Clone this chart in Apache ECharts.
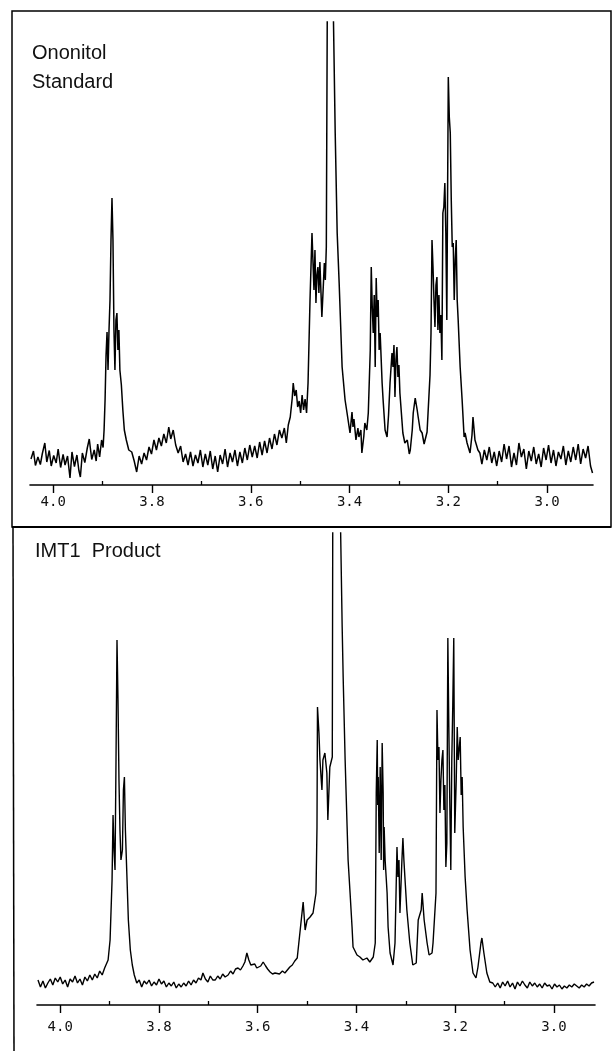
<!DOCTYPE html>
<html lang="en">
<head>
<meta charset="UTF-8">
<title>Ononitol standard vs IMT1 product 1H NMR</title>
<script src="https://cdn.jsdelivr.net/npm/echarts@6/dist/echarts.min.js"></script>
<style>
  html, body { margin: 0; padding: 0; background: #fff; }
  #chart { width: 614px; height: 1051px; }
</style>
</head>
<body>
<div id="chart"></div>
<script>
// chemical shift (ppm) / intensity (arb. units)
var ononitolStandard = [
  [4.045,5.2],[4.040,6.8],[4.036,3.9],[4.031,5.6],[4.026,4.1],[4.022,6.3],[4.017,8.4],[4.013,4.6],
  [4.008,6.9],[4.004,3.8],[3.999,5.9],[3.994,4.4],[3.990,7.2],[3.985,3.5],[3.980,6.1],[3.976,4.0],
  [3.971,5.8],[3.966,1.4],[3.962,6.6],[3.957,3.7],[3.952,6.0],[3.948,2.9],[3.945,1.6],[3.941,6.4],
  [3.936,4.5],[3.931,7.4],[3.927,9.2],[3.922,5.1],[3.917,7.0],[3.913,4.8],[3.910,8.2],[3.906,5.6],
  [3.902,9.0],[3.899,7.5],
  [3.897,11.0],[3.895,17.0],[3.893,26.0],[3.891,30.6],[3.889,23.0],[3.887,31.0],[3.885,37.0],
  [3.883,49.0],[3.881,57.4],[3.879,49.0],[3.877,31.0],[3.875,23.0],[3.873,33.0],[3.871,34.4],
  [3.869,27.0],[3.867,31.0],[3.865,23.0],[3.862,20.0],[3.859,15.0],[3.856,11.0],[3.852,9.0],
  [3.847,7.0],[3.841,6.6],[3.836,4.8],[3.831,2.6],
  [3.826,5.8],[3.821,4.2],[3.816,6.4],[3.811,5.0],[3.806,7.6],[3.801,6.2],[3.796,9.0],[3.791,7.0],
  [3.786,9.4],[3.781,7.8],[3.776,10.2],[3.771,8.4],[3.766,11.6],[3.762,9.2],[3.757,11.0],[3.752,8.0],
  [3.747,6.4],[3.742,7.8],[3.737,4.6],[3.732,6.2],[3.727,4.0],[3.722,6.6],[3.717,3.8],[3.712,6.0],
  [3.707,4.4],[3.702,7.0],[3.697,3.6],[3.692,6.2],[3.687,4.0],[3.682,6.8],[3.677,3.2],[3.672,5.8],
  [3.667,2.6],[3.662,6.0],[3.657,4.2],[3.652,7.2],[3.647,3.6],[3.642,6.4],[3.637,4.6],[3.632,7.0],
  [3.627,3.8],[3.622,6.6],[3.617,4.4],[3.612,7.4],[3.607,5.0],[3.602,8.0],[3.597,5.6],[3.592,7.8],
  [3.587,5.4],[3.582,8.6],[3.577,6.0],[3.572,8.8],[3.567,6.4],[3.562,9.4],[3.557,7.2],[3.552,10.2],
  [3.547,8.0],[3.542,11.0],[3.537,9.4],[3.532,11.4],[3.528,8.4],[3.524,12.0],[3.520,13.6],
  [3.516,17.4],[3.514,20.4],[3.511,17.8],[3.508,19.0],[3.505,15.6],[3.502,16.8],[3.499,14.4],
  [3.496,18.0],[3.493,15.0],[3.490,17.2],[3.487,14.4],
  [3.484,20.4],[3.480,37.0],[3.476,50.4],[3.474,50.6],[3.472,39.0],[3.470,47.0],[3.468,36.4],
  [3.466,42.0],[3.464,43.6],[3.462,38.4],[3.460,44.6],[3.458,39.0],[3.456,33.6],[3.453,40.0],
  [3.451,44.4],[3.449,41.0],[3.447,47.6],[3.445,96.0],[3.439,140],[3.433,96.0],[3.429,70.4],
  [3.425,50.4],[3.421,40.4],[3.415,23.6],[3.409,17.0],[3.405,14.4],[3.399,10.4],[3.395,14.6],
  [3.393,11.6],[3.391,13.2],[3.387,9.0],[3.383,11.4],[3.381,9.6],[3.377,11.0],[3.375,6.4],
  [3.371,9.8],[3.369,12.4],[3.365,11.0],[3.362,14.4],[3.358,27.0],[3.356,43.6],[3.354,35.6],
  [3.352,30.4],[3.350,38.0],[3.348,23.6],[3.346,41.4],[3.344,33.6],[3.342,37.0],[3.340,27.0],
  [3.338,30.4],[3.334,20.4],[3.332,17.0],[3.328,11.0],[3.324,9.6],[3.321,14.0],[3.318,20.4],
  [3.314,26.4],[3.312,23.6],[3.310,28.0],[3.308,17.6],[3.306,25.0],[3.304,27.6],[3.302,21.6],
  [3.300,24.0],[3.298,18.4],[3.292,10.4],[3.288,8.4],[3.283,9.0],[3.279,6.2],[3.277,7.0],
  [3.273,11.0],[3.271,14.4],[3.267,17.4],[3.263,15.0],[3.261,13.6],[3.257,11.0],[3.253,10.4],
  [3.249,8.2],[3.247,9.0],[3.243,10.6],[3.241,14.4],[3.237,22.0],[3.235,30.4],[3.233,49.0],
  [3.231,43.6],[3.229,37.0],[3.227,31.6],[3.225,40.0],[3.223,41.6],[3.221,31.0],[3.219,38.0],
  [3.217,30.4],[3.215,34.0],[3.213,25.0],[3.211,54.4],[3.209,55.6],[3.207,60.4],[3.205,50.4],
  [3.203,33.0],[3.200,81.6],[3.198,73.6],[3.196,70.4],[3.194,57.0],[3.192,47.6],[3.190,48.4],
  [3.188,37.0],[3.186,45.0],[3.184,49.0],[3.182,37.0],[3.180,33.0],[3.176,23.6],[3.172,17.0],
  [3.168,9.6],[3.166,10.4],[3.162,8.4],[3.156,6.4],[3.152,10.0],[3.150,13.6],[3.146,9.0],
  [3.144,9.0],[3.140,7.0],[3.136,6.4],
  [3.132,4.2],[3.127,7.0],[3.122,5.0],[3.117,7.6],[3.112,4.4],[3.107,6.6],[3.102,3.8],[3.097,6.8],
  [3.092,4.6],[3.087,8.2],[3.082,5.2],[3.077,7.8],[3.072,3.6],[3.067,6.4],[3.062,4.0],[3.057,8.4],
  [3.052,5.6],[3.047,7.2],[3.042,3.2],[3.037,6.8],[3.032,4.8],[3.027,7.6],[3.022,4.2],[3.017,6.2],
  [3.012,3.6],[3.007,7.4],[3.002,5.0],[2.997,8.0],[2.992,4.4],[2.987,7.0],[2.982,3.8],[2.977,6.6],
  [2.972,5.2],[2.967,7.8],[2.962,4.0],[2.957,6.8],[2.952,4.6],[2.947,7.6],[2.942,5.0],[2.937,8.2],
  [2.932,4.2],[2.927,7.2],[2.922,5.4],[2.917,7.8],[2.912,3.8],[2.908,2.4]
];

var imt1Product = [
  [4.045,5.0],[4.040,3.6],[4.035,4.8],[4.030,3.4],[4.025,4.4],[4.020,5.2],[4.015,4.0],[4.010,5.4],
  [4.005,4.6],[4.000,5.6],[3.995,4.2],[3.990,5.0],[3.985,3.6],[3.980,5.2],[3.975,4.6],[3.970,5.8],
  [3.965,4.4],[3.960,5.2],[3.955,4.0],[3.950,5.6],[3.945,4.8],[3.940,6.0],[3.935,5.0],[3.930,6.2],
  [3.925,5.4],[3.920,6.8],[3.915,6.0],[3.910,7.4],[3.906,7.0],[3.903,9.0],
  [3.899,13.0],[3.895,25.0],[3.893,38.0],[3.891,31.0],[3.889,27.0],[3.887,49.0],[3.885,73.0],
  [3.883,61.0],[3.881,45.0],[3.879,35.0],[3.877,29.0],[3.874,31.0],[3.872,43.0],[3.870,45.6],
  [3.868,35.0],[3.866,29.0],[3.864,23.0],[3.862,17.0],[3.858,11.0],[3.854,8.0],[3.850,6.0],
  [3.845,4.4],[3.840,5.0],[3.835,3.6],[3.830,4.8],[3.825,4.2],[3.820,5.0],[3.815,3.8],[3.810,4.6],
  [3.805,4.0],[3.800,5.2],[3.795,4.2],[3.790,4.8],[3.785,3.6],[3.780,4.4],[3.775,3.8],[3.770,4.6],
  [3.765,3.4],[3.760,4.2],[3.755,3.6],[3.750,4.4],[3.745,3.8],[3.740,4.8],[3.735,4.0],[3.730,5.0],
  [3.725,4.4],[3.720,5.4],[3.715,5.0],[3.711,6.4],[3.706,5.2],[3.701,4.6],[3.696,5.8],[3.691,5.0],
  [3.686,5.0],[3.681,5.8],[3.676,5.2],[3.671,6.2],[3.666,5.6],[3.660,6.0],[3.655,6.8],[3.650,6.2],
  [3.645,7.2],[3.640,7.4],[3.635,7.0],[3.630,7.8],[3.626,8.6],[3.622,10.4],[3.618,9.0],[3.614,8.0],
  [3.611,7.6],[3.606,8.2],[3.602,7.4],[3.599,7.0],[3.594,7.8],[3.589,8.6],[3.584,7.8],[3.580,7.2],
  [3.575,6.6],[3.570,6.2],[3.565,6.4],[3.561,6.0],[3.556,6.2],[3.550,6.8],[3.545,6.4],[3.540,7.0],
  [3.535,7.6],[3.530,8.0],[3.525,8.8],[3.520,9.4],[3.514,15.0],[3.508,20.6],[3.504,15.0],
  [3.500,17.0],[3.494,17.6],[3.488,18.4],[3.484,18.6],[3.482,22.4],[3.480,35.6],[3.479,59.6],
  [3.476,54.4],[3.474,49.0],[3.470,43.0],[3.468,49.0],[3.464,50.4],[3.460,46.4],[3.458,37.0],
  [3.454,47.6],[3.449,49.6],[3.448,100],[3.441,150],[3.433,100],[3.429,75.6],[3.427,65.6],
  [3.423,49.0],[3.419,35.6],[3.417,29.0],[3.413,22.4],[3.409,15.6],[3.407,11.6],[3.399,10.0],
  [3.393,9.6],[3.387,9.0],[3.379,9.4],[3.373,8.6],[3.366,9.6],[3.362,12.4],[3.360,42.4],
  [3.358,53.0],[3.357,40.0],[3.356,45.6],[3.354,30.4],[3.352,47.6],[3.350,29.0],[3.348,52.4],
  [3.346,42.4],[3.345,27.0],[3.344,35.6],[3.342,29.0],[3.338,22.4],[3.336,15.6],[3.332,10.4],
  [3.326,8.0],[3.322,12.4],[3.318,31.6],[3.316,25.6],[3.314,29.0],[3.312,18.4],[3.308,29.0],
  [3.306,33.4],[3.304,29.0],[3.302,25.6],[3.298,19.0],[3.292,12.4],[3.286,8.0],[3.279,8.4],
  [3.275,17.0],[3.269,19.0],[3.267,22.4],[3.263,17.0],[3.257,12.4],[3.253,10.0],[3.247,10.4],
  [3.245,12.4],[3.241,12.4],[3.239,22.4],[3.237,59.0],[3.235,49.0],[3.233,51.6],[3.231,38.4],
  [3.229,45.0],[3.227,49.0],[3.225,51.0],[3.223,39.0],[3.221,44.0],[3.219,27.6],[3.217,32.4],
  [3.215,73.4],[3.213,55.6],[3.211,40.0],[3.209,27.0],[3.207,49.0],[3.205,60.0],[3.203,73.4],
  [3.201,34.4],[3.198,45.0],[3.196,55.6],[3.194,49.0],[3.190,53.6],[3.188,42.0],[3.186,45.6],
  [3.184,35.6],[3.180,25.6],[3.176,19.0],[3.170,11.0],[3.164,6.4],[3.158,5.4],[3.154,7.6],
  [3.148,12.4],[3.146,13.4],[3.142,10.4],[3.136,6.4],[3.130,4.6],[3.124,4.4],
  [3.119,3.6],[3.114,4.4],[3.109,3.4],[3.104,4.6],[3.099,3.8],[3.094,4.8],[3.089,3.6],[3.084,4.4],
  [3.079,3.2],[3.074,4.6],[3.069,3.8],[3.064,4.8],[3.059,4.0],[3.054,3.4],[3.049,4.6],[3.044,3.8],
  [3.039,4.4],[3.034,3.6],[3.029,4.2],[3.024,3.4],[3.019,4.4],[3.014,3.8],[3.009,4.0],[3.004,3.2],
  [2.999,4.2],[2.994,3.6],[2.989,4.0],[2.984,3.2],[2.979,3.8],[2.974,3.4],[2.969,4.0],[2.964,3.6],
  [2.959,4.2],[2.954,3.8],[2.949,3.4],[2.944,4.0],[2.939,3.6],[2.934,4.2],[2.929,3.8],[2.924,4.4],
  [2.919,4.6]
];

var majorTicks = [4.0, 3.8, 3.6, 3.4, 3.2, 3.0];
var minorTicks = [3.9, 3.7, 3.5, 3.3, 3.1];
var panelTitles = ['Ononitol\nStandard', 'IMT1  Product'];

var chart = echarts.init(document.getElementById('chart'));

var labelFont = {
  color: '#111',
  fontFamily: 'DejaVu Sans Mono',
  fontSize: 14,
  formatter: function (v) { return Number(v).toFixed(1); }
};

function shiftAxis(gridIndex, max, min, margin) {
  return {
    type: 'value', gridIndex: gridIndex, inverse: true, min: min, max: max,
    axisLine: { show: true, onZero: false, lineStyle: { color: '#000', width: 1.6 } },
    axisTick: { show: true, customValues: majorTicks, length: 8, lineStyle: { color: '#000', width: 1.4 } },
    axisLabel: Object.assign({ customValues: majorTicks, margin: margin }, labelFont),
    splitLine: { show: false }
  };
}
function minorAxis(gridIndex, max, min) {
  return {
    type: 'value', gridIndex: gridIndex, inverse: true, min: min, max: max,
    axisLine: { show: false },
    axisTick: { show: true, customValues: minorTicks, length: 4, lineStyle: { color: '#000', width: 1.3 } },
    axisLabel: { show: false },
    splitLine: { show: false }
  };
}

var option = {
  animation: false,
  backgroundColor: '#fff',
  grid: [
    { left: 30, right: 21, top: 22, height: 463 },
    { left: 37, right: 19, top: 533, height: 472 }
  ],
  xAxis: [
    shiftAxis(0, 4.047, 2.907, 10),
    shiftAxis(1, 4.047, 2.917, 15),
    minorAxis(0, 4.047, 2.907),
    minorAxis(1, 4.047, 2.917)
  ],
  yAxis: [
    { type: 'value', gridIndex: 0, min: 0, max: 92.6, show: false },
    { type: 'value', gridIndex: 1, min: 0, max: 94.4, show: false }
  ],
  series: [
    {
      name: 'Ononitol Standard', type: 'line', xAxisIndex: 0, yAxisIndex: 0,
      data: ononitolStandard, showSymbol: false, clip: true,
      lineStyle: { color: '#000', width: 1.5 }
    },
    {
      name: 'IMT1 Product', type: 'line', xAxisIndex: 1, yAxisIndex: 1,
      data: imt1Product, showSymbol: false, clip: true,
      lineStyle: { color: '#000', width: 1.4 }
    }
  ],
  graphic: [
    // frame round the top panel
    { type: 'rect', shape: { x: 12, y: 11, width: 599, height: 516 },
      style: { fill: 'none', stroke: '#000', lineWidth: 1.5 } },
    { type: 'line', shape: { x1: 12, y1: 527, x2: 611, y2: 527 },
      style: { stroke: '#000', lineWidth: 2 } },
    // bottom panel only has its left edge
    { type: 'line', shape: { x1: 13, y1: 527, x2: 14, y2: 1051 },
      style: { stroke: '#000', lineWidth: 1.5 } },
    { type: 'text', left: 32, top: 39,
      style: { text: panelTitles[0], fill: '#111', font: '20px "Liberation Sans", Arial, sans-serif', lineHeight: 29 } },
    { type: 'text', left: 35, top: 541,
      style: { text: panelTitles[1], fill: '#111', font: '20px "Liberation Sans", Arial, sans-serif' } }
  ]
};

chart.setOption(option);
</script>
</body>
</html>
